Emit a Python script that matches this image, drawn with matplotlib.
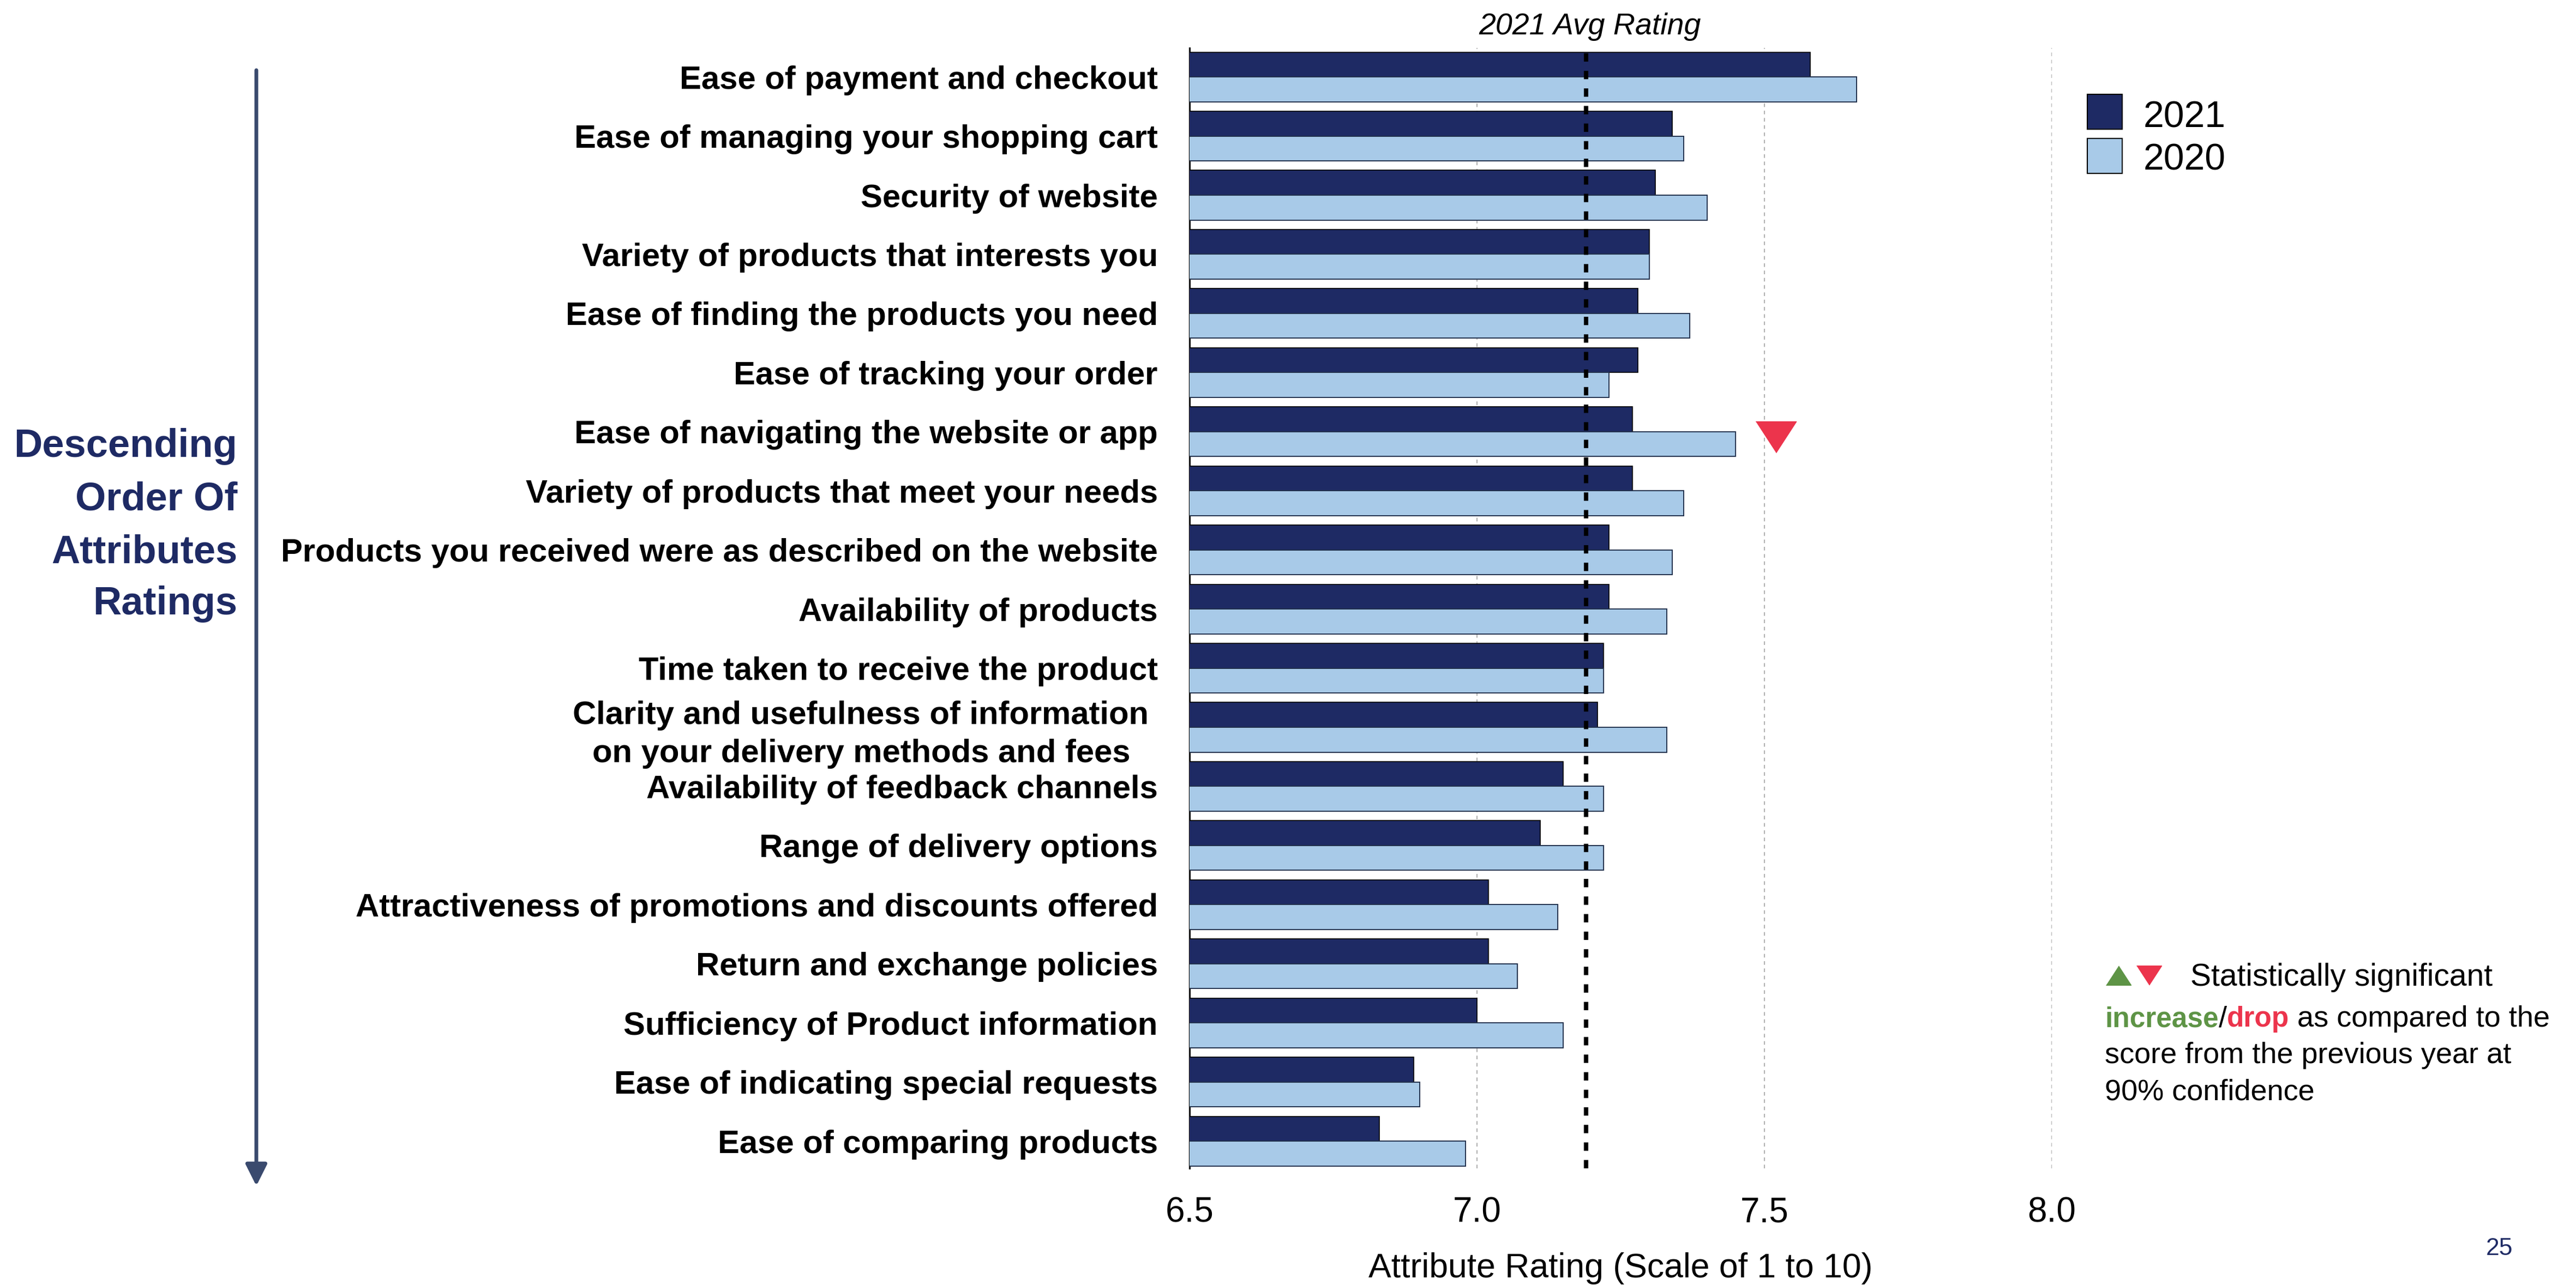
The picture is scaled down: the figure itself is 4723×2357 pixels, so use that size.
import matplotlib
matplotlib.use("Agg")
import matplotlib.pyplot as plt
from matplotlib.lines import Line2D
from matplotlib.patches import Rectangle, FancyArrowPatch
import numpy as np

plt.rcParams["font.family"] = ["Liberation Sans", "DejaVu Sans"]

# Attribute ratings, highest 2021 score first
attributes = [
    "Ease of payment and checkout",
    "Ease of managing your shopping cart",
    "Security of website",
    "Variety of products that interests you",
    "Ease of finding the products you need",
    "Ease of tracking your order",
    "Ease of navigating the website or app",
    "Variety of products that meet your needs",
    "Products you received were as described on the website",
    "Availability of products",
    "Time taken to receive the product",
    "Clarity and usefulness of information \non your delivery methods and fees   ",
    "Availability of feedback channels",
    "Range of delivery options",
    "Attractiveness of promotions and discounts offered",
    "Return and exchange policies",
    "Sufficiency of Product information",
    "Ease of indicating special requests",
    "Ease of comparing products",
]
rating_2021 = [7.58, 7.34, 7.31, 7.30, 7.28, 7.28, 7.27, 7.27, 7.23, 7.23,
               7.22, 7.21, 7.15, 7.11, 7.02, 7.02, 7.00, 6.89, 6.83]
rating_2020 = [7.66, 7.36, 7.40, 7.30, 7.37, 7.23, 7.45, 7.36, 7.34, 7.33,
               7.22, 7.33, 7.22, 7.22, 7.14, 7.07, 7.15, 6.90, 6.98]
avg_2021 = 7.19
drop_rows = [6]          # significant drop vs previous year
xticks = [6.5, 7.0, 7.5, 8.0]
xtick_labels = ["6.5", "7.0", "7.5", "8.0"]

DARK = "#1e2a64"
LIGHT = "#a8cae8"
RED = "#ec344c"
GREEN = "#5e9446"
SLATE = "#3a4a6e"

W, H = 4723, 2357
fig = plt.figure(figsize=(W / 100, H / 100), dpi=100)


def fx(px):
    return px / W


def fy(py):
    return 1 - py / H


ax = fig.add_axes([fx(2181), fy(2143), fx(3762) - fx(2181), fy(88) - fy(2143)])

n = len(attributes)
y = np.arange(n)
h = 0.42
ax.barh(y - h / 2, rating_2021, height=h, color=DARK, edgecolor="black",
        linewidth=1.2, zorder=3)
ax.barh(y + h / 2, rating_2020, height=h, color=LIGHT, edgecolor="#22314d",
        linewidth=1.4, zorder=3)

ax.set_xlim(6.5, 8.0)
ax.set_ylim(n - 1 + 0.46, -0.49)

for gx in xticks[1:]:
    ax.axvline(gx, color="#a0a0a0", lw=1.2, ls=(0, (4, 4)), zorder=1)
ax.axvline(avg_2021, color="black", lw=5.8, ls=(0, (1.9, 2.1)), zorder=4)

# down triangle marker for significant drops
tri_down = [(-1, 0.513), (1, 0.513), (0, -1.027)]
tri_up = [(-1, -0.513), (1, -0.513), (0, 1.027)]
for r in drop_rows:
    ax.plot(7.52, r, marker=tri_down, ms=55, color=RED, mec=RED,
            clip_on=False, zorder=5)

for s in ["top", "right", "bottom"]:
    ax.spines[s].set_visible(False)
ax.spines["left"].set_linewidth(2.2)

ax.set_xticks(xticks)
ax.set_xticklabels(xtick_labels, fontsize=46)
ax.set_yticks(y)
ax.set_yticklabels(attributes, fontsize=43, fontweight="bold")
for lbl in ax.get_yticklabels():
    lbl.set_linespacing(1.35)
ax.tick_params(axis="x", length=0, pad=37)
ax.tick_params(axis="y", length=0, pad=42)

ax.set_xlabel("Attribute Rating (Scale of 1 to 10)", fontsize=45, labelpad=31)

fig.text(fx(2915), fy(63), "2021 Avg Rating", fontsize=40, style="italic",
         ha="center", va="baseline")

# left side caption with downward arrow
for line, base in zip(["Descending", "Order Of", "Attributes", "Ratings"],
                      [838, 935, 1032, 1127]):
    fig.text(fx(435), fy(base), line, fontsize=52, fontweight="bold",
             color=DARK, ha="right", va="baseline")
fig.add_artist(FancyArrowPatch((fx(470), fy(126)), (fx(470), fy(2178)),
                               transform=fig.transFigure, arrowstyle="-|>",
                               mutation_scale=60, lw=5, color=SLATE))

# legend
for top, col, txt, base in [(173, DARK, "2021", 233), (254, LIGHT, "2020", 312)]:
    fig.add_artist(Rectangle((fx(3827), fy(top + 64)), 64 / W, 64 / H,
                             transform=fig.transFigure, facecolor=col,
                             edgecolor="black", lw=1.5))
    fig.text(fx(3930), fy(base), txt, fontsize=49, va="baseline")

# significance note
note_fs = 39
fig.add_artist(Line2D([fx(3884)], [fy(1795)], marker=tri_up, ms=34,
                      color=GREEN, transform=fig.transFigure))
fig.add_artist(Line2D([fx(3940)], [fy(1783)], marker=tri_down, ms=34,
                      color=RED, transform=fig.transFigure))
fig.text(fx(4016), fy(1808), "Statistically significant", fontsize=41,
         va="baseline")
prev = fig.text(fx(3859), fy(1883), "increase", fontsize=37, color=GREEN,
                fontweight="bold", va="baseline")
for txt, col, wt, fs in [("/", "black", "normal", note_fs),
                         ("drop", RED, "bold", 37),
                         (" as compared to the", "black", "normal", note_fs)]:
    prev = ax.annotate(txt, xy=(1, 0), xycoords=prev, ha="left", va="bottom",
                       fontsize=fs, color=col, fontweight=wt)
fig.text(fx(3859), fy(1950), "score from the previous year at",
         fontsize=note_fs, va="baseline")
fig.text(fx(3859), fy(2017), "90% confidence", fontsize=note_fs, va="baseline")

fig.text(fx(4583), fy(2302), "25", fontsize=32, color=DARK, ha="center",
         va="baseline")

fig.savefig("out.png", dpi=100)
